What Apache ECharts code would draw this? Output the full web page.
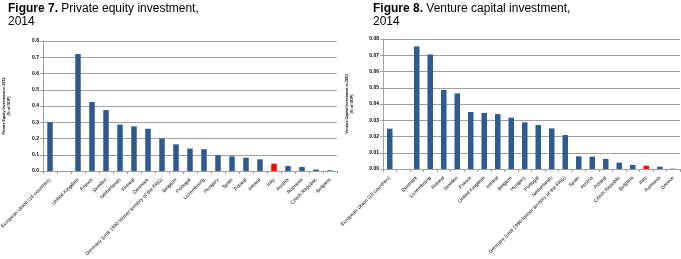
<!DOCTYPE html>
<html><head><meta charset="utf-8">
<script src="https://cdn.jsdelivr.net/npm/echarts@6/dist/echarts.min.js"></script>
<style>html,body{margin:0;padding:0;background:#fff}#c{width:681px;height:259px}</style>
</head><body><div id="c"></div>
<script>
const peCategories = ['European Union (15 countries)', '', 'United Kingdom', 'France', 'Sweden', 'Netherlands', 'Finland', 'Denmark', 'Germany (until 1990 former territory of the FRG)', 'Belgium', 'Portugal', 'Luxembourg', 'Hungary', 'Spain', 'Poland', 'Ireland', 'Italy', 'Austria', 'Romania', 'Czech Republic', 'Bulgaria'];
const peValues = [0.30, null, 0.72, 0.425, 0.375, 0.285, 0.275, 0.26, 0.20, 0.164, 0.138, 0.134, 0.097, 0.090, 0.082, 0.072, 0.045, 0.031, 0.025, 0.009, 0.004];
const vcCategories = ['European Union (15 countries)', '', 'Denmark', 'Luxembourg', 'Finland', 'Sweden', 'France', 'United Kingdom', 'Ireland', 'Belgium', 'Hungary', 'Portugal', 'Netherlands', 'Germany (until 1990 former territory of the FRG)', 'Spain', 'Austria', 'Poland', 'Czech Republic', 'Bulgaria', 'Italy', 'Romania', 'Greece'];
const vcValues = [0.0248, null, 0.0754, 0.0705, 0.0486, 0.0465, 0.0351, 0.0345, 0.0338, 0.0316, 0.0287, 0.0271, 0.025, 0.0209, 0.0078, 0.0076, 0.0062, 0.0039, 0.0025, 0.002, 0.0014, 0.0002];
const peTicks = ['0.0','0.1','0.2','0.3','0.4','0.5','0.6','0.7','0.8'];
const vcTicks = ['0.00','0.01','0.02','0.03','0.04','0.05','0.06','0.07','0.08'];
const highlight = 'Italy';
const BLUE = '#2f5a8f', RED = '#ff0000';
const FONT = 'Liberation Sans, Arial, sans-serif';

function colored(cats, vals) {
  return vals.map((v, i) => ({ value: v, itemStyle: { color: cats[i] === highlight ? RED : BLUE } }));
}
function xAxis(gi, cats) {
  return {
    type: 'category', gridIndex: gi, data: cats,
    axisLine: { lineStyle: { color: '#a0a0a0', width: 1 } },
    axisTick: { show: true, alignWithLabel: false, length: 3, lineStyle: { color: '#a0a0a0' } },
    axisLabel: { interval: 0, rotate: 45, fontSize: 5, color: '#000', fontFamily: FONT, margin: 8 }
  };
}
function yAxis(gi, max, interval, ticks, name, gap) {
  return {
    type: 'value', gridIndex: gi, min: 0, max: max, interval: interval,
    name: name, nameLocation: 'middle', nameRotate: 90, nameGap: gap,
    nameTextStyle: { fontSize: 3.6, color: '#000', fontFamily: FONT, fontWeight: 'bold', lineHeight: 4.5 },
    axisLine: { show: true, lineStyle: { color: '#a0a0a0' } },
    axisTick: { show: true, length: 3, lineStyle: { color: '#a0a0a0' } },
    axisLabel: { fontSize: 5, color: '#000', fontFamily: FONT, fontWeight: 'bold', margin: 4,
      formatter: (v) => ticks[Math.round(v / interval)] },
    splitLine: { lineStyle: { color: '#a0a0a0', width: 1 } }
  };
}
const chart = echarts.init(document.getElementById('c'), null, { renderer: 'canvas' });
const titleRich = { b: { fontWeight: 'bold', fontSize: 12, fontFamily: FONT, color: '#000' },
                    n: { fontWeight: 'normal', fontSize: 12, fontFamily: FONT, color: '#000' } };
chart.setOption({
  animation: false,
  backgroundColor: '#fff',
  title: [
    { left: 8, top: 2, padding: 0, text: '{b|Figure 7.}{n| Private equity investment,}\n{n|2014}',
      textStyle: { rich: titleRich, lineHeight: 13, fontWeight: 'normal' } },
    { left: 373, top: 2, padding: 0, text: '{b|Figure 8.}{n| Venture capital investment,}\n{n|2014}',
      textStyle: { rich: titleRich, lineHeight: 13, fontWeight: 'normal' } }
  ],
  grid: [
    { left: 43, top: 41, width: 294, height: 130, outerBoundsMode: 'none', containLabel: false },
    { left: 383, top: 39, width: 297, height: 130, outerBoundsMode: 'none', containLabel: false }
  ],
  xAxis: [xAxis(0, peCategories), xAxis(1, vcCategories)],
  yAxis: [
    yAxis(0, 0.8, 0.1, peTicks, 'Private Equity Investment in 2013\n(% of GDP)', 32),
    yAxis(1, 0.08, 0.01, vcTicks, 'Venture Capital Investment in 2013\n(% of GDP)', 29)
  ],
  series: [
    { type: 'bar', xAxisIndex: 0, yAxisIndex: 0, data: colored(peCategories, peValues), barWidth: 5.5 },
    { type: 'bar', xAxisIndex: 1, yAxisIndex: 1, data: colored(vcCategories, vcValues), barWidth: 5.5 }
  ]
});
</script></body></html>
